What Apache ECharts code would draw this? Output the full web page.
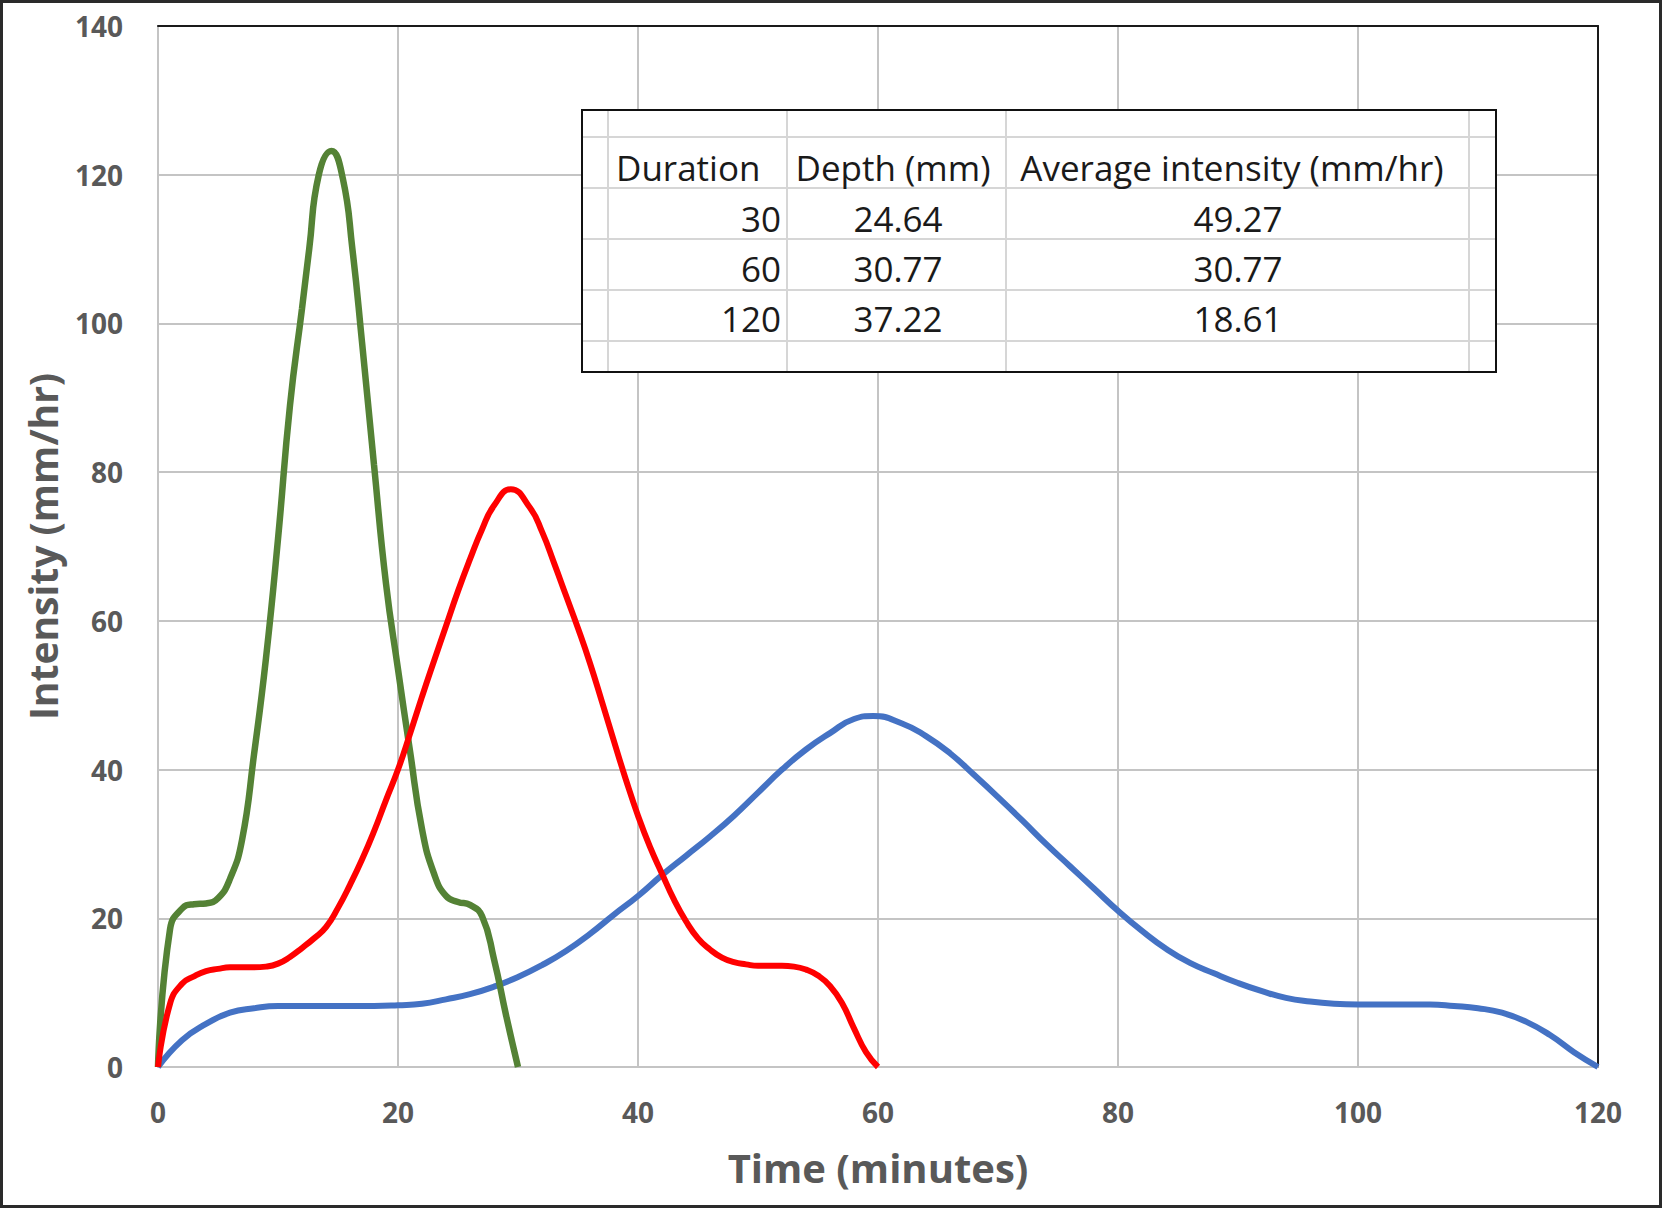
<!DOCTYPE html>
<html><head><meta charset="utf-8">
<script src="https://cdn.jsdelivr.net/npm/echarts@6/dist/echarts.min.js"></script>
<style>
html,body{margin:0;padding:0;background:#fff;}
#wrap{position:relative;width:1662px;height:1208px;overflow:hidden;}
#chart{position:absolute;left:0;top:0;width:1662px;height:1208px;}
#frame{position:absolute;left:0;top:0;width:1662px;height:1208px;box-sizing:border-box;border:3px solid #2a2a2a;pointer-events:none;}
</style></head>
<body><div id="wrap"><div id="chart"></div><div id="frame"></div></div>
<script>
// ---- Data ----
const greenTime = [0,1,2,3,4,5,6,7,8,9,10,11,12,12.6,13.4,14.45,15.4,16.2,17,18,19,20,21,22,23,24,25,26,27,28,29,30];
const greenValues = [0,18.5,21.3,21.9,22,22.7,25.3,30.5,42,55,71,89,102,110,120,123.2,119.5,110,97.5,81,65,53.5,42.5,32,26,23,22.2,21.8,20.3,14.5,7,0];

const redTime = [0,1,2,3,4,5,6,7,8,9,10,11,12,13,14,15,16,17,18,19,20,21,22,23,24,25,26,27,28,29.4,31,32,33,34,35,36,37,38,39,40,41,42,43,44,45,46,47,48,49,50,51,52,53,54,55,56,57,58,59,60];
const redValues = [0,8.5,11.2,12.2,12.9,13.2,13.4,13.4,13.4,13.5,13.9,14.8,16,17.3,18.8,21.4,24.5,27.9,31.7,35.9,40,44.8,49.8,54.6,59.3,64,68.3,72.3,75.5,77.7,75.2,72,67.8,63.4,59,54.3,49.1,43.8,38.6,33.8,29.6,26,22.5,19.6,17.3,15.8,14.7,14.1,13.8,13.6,13.6,13.6,13.5,13.1,12.3,10.9,8.6,5.2,2,0];

const blueTime = [0,2,4,6,8,10,12,14,16,18,20,22,24,26,28,30,32,34,36,38,40,42,44,46,48,50,52,54,56,58,59.6,62,64,66,68,70,72,74,76,78,80,82,84,86,88,90,92,94,96,98,100,102,104,106,108,110,112,114,116,118,120];
const blueValues = [0,3.6,5.8,7.3,7.9,8.2,8.2,8.2,8.2,8.2,8.3,8.5,9.1,9.8,10.8,12.1,13.7,15.6,17.9,20.5,23,25.8,28.4,31,33.8,36.9,40,42.7,44.9,46.8,47.2,46.2,44.5,42.2,39.3,36.3,33.2,30,27,24,21,18.3,15.9,14,12.6,11.3,10.2,9.3,8.8,8.5,8.4,8.4,8.4,8.4,8.2,7.9,7.3,6.1,4.3,2,0];

const tableHeader = ['Duration', 'Depth (mm)', 'Average intensity (mm/hr)'];
const durations = ['30', '60', '120'];
const depths = ['24.64', '30.77', '37.22'];
const avgIntensities = ['49.27', '30.77', '18.61'];

const xAxisTitle = 'Time (minutes)';
const yAxisTitle = 'Intensity (mm/hr)';

// ---- Build ----
function zip(a, b) { return a.map((t, i) => [t, b[i]]); }

const labelStyle = { fontFamily: 'Open Sans', fontWeight: 'bold', fontSize: 28, color: '#595959' };
const gridColor = '#c4c4c4';

// Table graphic (box at left 582, top 110, right 1496, bottom 372)
const TL = 582, TT = 110, TR = 1496, TB = 372;
const colLines = [608, 787, 1006, 1469];
const rowLines = [137, 188, 239, 290, 341];
const rowCenters = [167, 218, 268, 318];
const tableFont = { fontFamily: 'Open Sans', fontSize: 35, fill: '#1a1a1a' };
const tableChildren = [];
tableChildren.push({ type: 'rect', z: 100, shape: { x: TL, y: TT, width: TR - TL, height: TB - TT }, style: { fill: '#ffffff', stroke: '#ffffff', lineWidth: 0 } });
colLines.forEach(x => tableChildren.push({ type: 'line', z: 101, shape: { x1: x, y1: TT, x2: x, y2: TB }, style: { stroke: '#d6d6d6', lineWidth: 2 } }));
rowLines.forEach(y => tableChildren.push({ type: 'line', z: 101, shape: { x1: TL, y1: y, x2: TR, y2: y }, style: { stroke: '#d6d6d6', lineWidth: 2 } }));
tableChildren.push({ type: 'rect', z: 102, shape: { x: TL, y: TT, width: TR - TL, height: TB - TT }, style: { fill: 'none', stroke: '#111', lineWidth: 2 } });
function txt(s, x, y, align) {
  return { type: 'text', z: 103, style: Object.assign({ text: s, x: x, y: y, textAlign: align, textVerticalAlign: 'middle' }, tableFont) };
}
tableChildren.push(txt(tableHeader[0], 616, rowCenters[0], 'left'));
tableChildren.push(txt(tableHeader[1], 893, rowCenters[0], 'center'));
tableChildren.push(txt(tableHeader[2], 1232, rowCenters[0], 'center'));
for (let i = 0; i < durations.length; i++) {
  tableChildren.push(txt(durations[i], 781, rowCenters[i + 1], 'right'));
  tableChildren.push(txt(depths[i], 898, rowCenters[i + 1], 'center'));
  tableChildren.push(txt(avgIntensities[i], 1238, rowCenters[i + 1], 'center'));
}

const chart = echarts.init(document.getElementById('chart'), null, { renderer: 'svg' });
chart.setOption({
  animation: false,
  backgroundColor: '#fff',
  grid: { left: 158, top: 26, width: 1440, height: 1041, containLabel: false },
  xAxis: [{
    type: 'value', min: 0, max: 120, interval: 20,
    name: xAxisTitle, nameLocation: 'middle', nameGap: 80,
    nameTextStyle: { fontFamily: 'Open Sans', fontWeight: 'bold', fontSize: 40, color: '#595959' },
    axisLine: { show: true, lineStyle: { color: gridColor, width: 2 } },
    axisTick: { show: false },
    axisLabel: Object.assign({ margin: 31 }, labelStyle),
    splitLine: { show: true, lineStyle: { color: gridColor, width: 2 } }
  }, {
    type: 'value', min: 0, max: 120, interval: 20, position: 'top',
    axisLine: { show: true, onZero: false, lineStyle: { color: '#1a1a1a', width: 2 } },
    axisTick: { show: false }, axisLabel: { show: false }, splitLine: { show: false }
  }],
  yAxis: [{
    type: 'value', min: 0, max: 140, interval: 20,
    name: yAxisTitle, nameLocation: 'middle', nameGap: 96, nameRotate: 90,
    nameTextStyle: { fontFamily: 'Open Sans', fontWeight: 'bold', fontSize: 39, color: '#595959' },
    axisLine: { show: true, lineStyle: { color: gridColor, width: 2 } },
    axisTick: { show: false },
    axisLabel: Object.assign({ margin: 35 }, labelStyle),
    splitLine: { show: true, lineStyle: { color: gridColor, width: 2 } }
  }, {
    type: 'value', min: 0, max: 140, interval: 20, position: 'right',
    axisLine: { show: true, onZero: false, lineStyle: { color: '#1a1a1a', width: 2 } },
    axisTick: { show: false }, axisLabel: { show: false }, splitLine: { show: false }
  }],
  series: [
    { type: 'line', name: '120 min', data: zip(blueTime, blueValues), smooth: 0.5, showSymbol: false,
      lineStyle: { color: '#4472C4', width: 6 }, z: 2 },
    { type: 'line', name: '30 min', data: zip(greenTime, greenValues), smooth: 0.5, showSymbol: false,
      lineStyle: { color: '#548235', width: 6.5 }, z: 3 },
    { type: 'line', name: '60 min', data: zip(redTime, redValues), smooth: 0.5, showSymbol: false,
      lineStyle: { color: '#FF0000', width: 6 }, z: 4 }
  ],
  graphic: [{ type: 'group', children: tableChildren }]
});
</script>
</body></html>
